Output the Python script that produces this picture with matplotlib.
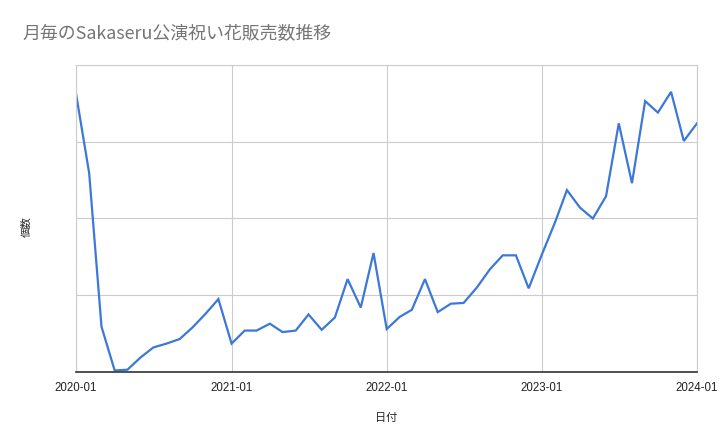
import pandas as pd
import matplotlib.pyplot as plt
import matplotlib.dates as mdates

plt.rcParams['font.family'] = ['Noto Sans CJK JP', 'DejaVu Sans']

# monthly counts, 2020-01 .. 2024-01 (grid step = 10)
months = pd.date_range("2020-01-01", "2024-01-01", freq="MS")
counts = [
    36.3, 25.9, 5.9, 0.2, 0.3, 1.9, 3.2, 3.7, 4.3, 5.8, 7.6, 9.5,
    3.7, 5.4, 5.4, 6.3, 5.2, 5.4, 7.5, 5.5, 7.1, 12.1, 8.4, 15.5,
    5.6, 7.2, 8.1, 12.1, 7.8, 8.9, 9.0, 11.0, 13.4, 15.2, 15.2, 10.9,
    15.3, 19.5, 23.7, 21.4, 20.0, 22.9, 32.4, 24.6, 35.3, 33.8, 36.5, 30.1,
    32.4,
]
tick_dates = pd.to_datetime(["2020-01-01", "2021-01-01", "2022-01-01", "2023-01-01", "2024-01-01"])

fig = plt.figure(figsize=(7.2, 4.44), dpi=100)
ax = fig.add_axes([76/720, 1-372/444, (697-76)/720, (372-65)/444])

ax.plot(months, counts, color="#3c78d8", linewidth=1.6, solid_joinstyle="miter")

ax.set_xlim(months[0], months[-1])
ax.set_ylim(0, 40)
ax.set_yticks([0, 10, 20, 30, 40])
ax.set_yticklabels([])
ax.set_xticks(tick_dates)
ax.xaxis.set_major_formatter(mdates.DateFormatter("%Y-%m"))
ax.tick_params(length=0, pad=7)
for lbl in ax.get_xticklabels():
    lbl.set_fontfamily("Liberation Sans")
    lbl.set_fontsize(8.3)
    lbl.set_color("#222222")

ax.grid(True, color="#cccccc", linewidth=0.8)
ax.set_axisbelow(True)
for s in ["left", "right", "top"]:
    ax.spines[s].set_color("#cccccc")
    ax.spines[s].set_linewidth(0.8)
ax.spines["bottom"].set_color("#333333")
ax.spines["bottom"].set_linewidth(1.2)

ax.set_xlabel("日付", fontsize=8, color="#222222", labelpad=14)
ax.set_ylabel("個数", fontsize=7.5, color="#222222")
ax.yaxis.set_label_coords(-0.071, 0.475)

fig.text(22/720, 1-33/444, "月毎のSakaseru公演祝い花販売数推移", fontsize=12.9,
         color="#757575", va="center", ha="left")

fig.savefig("out.png", dpi=100)
